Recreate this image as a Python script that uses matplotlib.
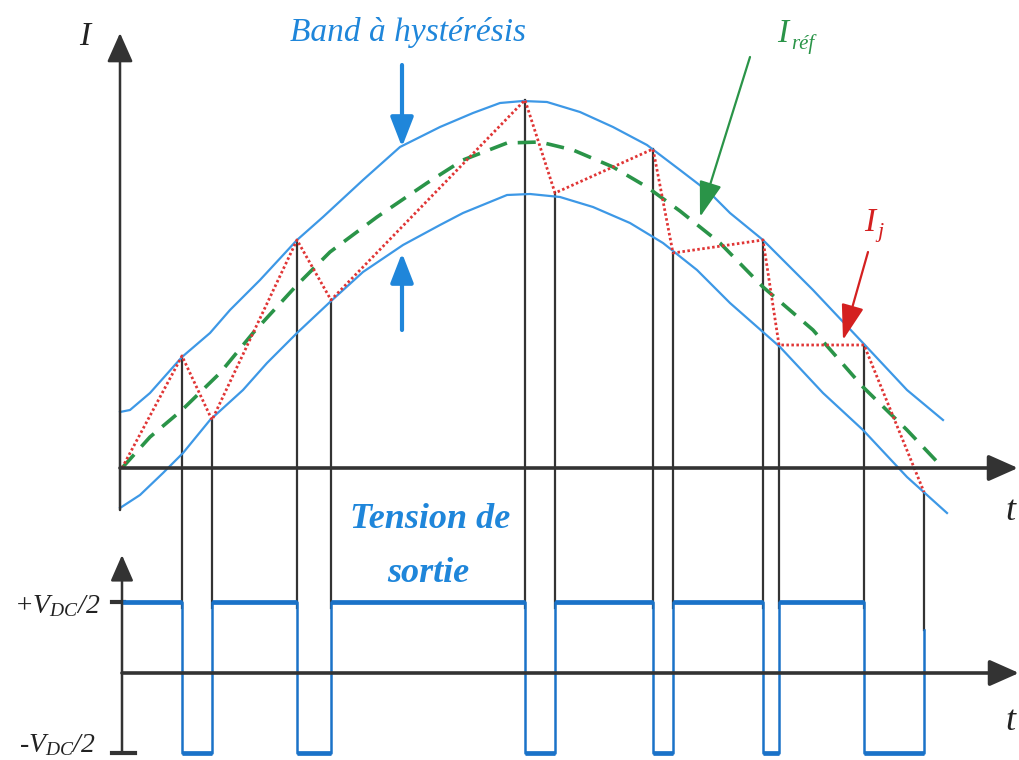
import numpy as np
import matplotlib.pyplot as plt

plt.rcParams['mathtext.fontset'] = 'custom'
plt.rcParams['mathtext.it'] = 'Liberation Serif:italic'
plt.rcParams['mathtext.rm'] = 'Liberation Serif:italic'

ref_t = [122, 150, 182, 220, 253, 297, 330, 377, 427, 463, 507, 540, 573, 613, 647, 680,
         720, 763, 813, 863, 907, 943]
ref_i = [0, 31, 58, 95, 135, 183, 216, 251, 285, 308, 325, 326, 318, 301, 281, 257,
         225, 181, 138, 81, 38, 0]

up_t = [120, 130, 150, 182, 210, 230, 260, 297, 323, 363, 400, 440, 473, 500, 523, 547,
        580, 613, 647, 680, 710, 730, 763, 813, 863, 907, 943]
up_i = [56, 58, 75, 111, 135, 158, 188, 228, 251, 288, 321, 341, 355, 365, 367, 366,
        356, 341, 323, 298, 275, 255, 228, 178, 125, 78, 48]

lo_t = [120, 140, 163, 183, 210, 243, 267, 297, 330, 363, 403, 440, 463, 507, 530, 560,
        593, 630, 663, 697, 730, 780, 823, 863, 907, 947]
lo_i = [-40, -27, -5, 15, 48, 78, 105, 135, 166, 196, 223, 243, 255, 273, 274, 271,
        261, 245, 225, 198, 165, 121, 75, 38, -9, -45]

# switching instants and current at each switch
sw_t = [182, 212, 297, 331, 525, 555, 653, 673, 763, 779, 864, 924]
sw_i = [112, 48, 228, 168, 368, 275, 319, 215, 228, 123, 123, -24]
i_start = (122, 0)

v_levels = [71, -80]   # +Vdc/2, -Vdc/2 (sketch units)
v_last = 43            # last edge stops short in the sketch

# layout (px from bottom)
Y_I = 292
Y_V = 87

BLUE_BAND = '#3d98e6'
BLUE_TXT = '#1f86da'
BLUE_V = '#1a72c8'
GREEN = '#2a9448'
RED = '#e03535'
DARK = '#333333'

fig = plt.figure(figsize=(10.2, 7.6), dpi=100)
ax = fig.add_axes([0, 0, 1, 1])
ax.set_xlim(0, 1020)
ax.set_ylim(0, 760)
ax.axis('off')

# switching verticals
for k, (t, i) in enumerate(zip(sw_t, sw_i)):
    bottom = Y_V + v_last if k == len(sw_t) - 1 else 152
    ax.plot([t, t], [Y_I + i, bottom], color=DARK, lw=1.6, zorder=2)

# band and reference
ax.plot(up_t, np.array(up_i) + Y_I, color=BLUE_BAND, lw=1.6, zorder=3)
ax.plot(lo_t, np.array(lo_i) + Y_I, color=BLUE_BAND, lw=1.6, zorder=3)
ax.plot(ref_t, np.array(ref_i) + Y_I, color=GREEN, lw=2.6, dashes=(5, 3), zorder=4)

# actual current
path_t = [i_start[0]] + sw_t
path_i = [i_start[1]] + sw_i
ax.plot(path_t, np.array(path_i) + Y_I, color=RED, lw=2, ls=(0, (0.9, 0.9)), zorder=5)

# output voltage
vt = [122]
vv = [v_levels[0]]
lvl = 0
for t in sw_t:
    vt += [t, t]
    vv += [v_levels[lvl], v_levels[1 - lvl]]
    lvl = 1 - lvl
vv[-1] = v_last
vt = np.array(vt)
vv = np.array(vv) + Y_V
ax.plot(vt, vv, color=BLUE_V, lw=1.8, zorder=3)
for k in range(0, len(vt) - 1, 2):
    if vv[k] == vv[k + 1]:
        ax.plot(vt[k:k + 2], vv[k:k + 2], color=BLUE_V, lw=3.4,
                solid_capstyle='butt', zorder=3)

# axes arrows
def arrow(x0, y0, x1, y1, color, lw, hl=1.0, hw=0.45, ms=20):
    ax.annotate('', xy=(x1, y1), xytext=(x0, y0),
                arrowprops=dict(arrowstyle='-|>,head_length=%s,head_width=%s' % (hl, hw),
                                color=color, lw=lw, mutation_scale=ms,
                                shrinkA=0, shrinkB=0), zorder=6)

arrow(120, 250, 120, 727, DARK, 1.8, 0.9, 0.4)
arrow(120, Y_I, 1018, Y_I, DARK, 2.6, 0.9, 0.4)
arrow(122, 7, 122, 205, DARK, 1.8, 0.8, 0.35)
arrow(122, Y_V, 1019, Y_V, DARK, 2.6, 0.9, 0.4)
ax.plot([112, 124], [Y_V + v_levels[0], Y_V + v_levels[0]], color=DARK, lw=3)
ax.plot([112, 135], [Y_V + v_levels[1], Y_V + v_levels[1]], color=DARK, lw=3)

# annotation arrows
arrow(402, 695, 402, 613, BLUE_TXT, 3, 0.9, 0.35)
arrow(402, 430, 402, 507, BLUE_TXT, 3, 0.9, 0.35)
arrow(750, 703, 700, 543, GREEN, 1.6, 1.1, 0.35)
arrow(868, 508, 843, 420, '#d42020', 1.6, 1.1, 0.35)

# texts
serif = 'Liberation Serif'
ax.text(85, 723, 'I', fontsize=24, style='italic', family=serif,
        ha='center', va='center', color='#222222')
ax.text(408, 728, 'Band à hystérésis', fontsize=24, style='italic', family=serif,
        ha='center', va='center', color=BLUE_TXT)
ax.text(1010, 248, 't', fontsize=26, style='italic', family=serif,
        ha='center', va='center', color='#222222')
ax.text(1010, 38, 't', fontsize=26, style='italic', family=serif,
        ha='center', va='center', color='#222222')
ax.text(430, 241, 'Tension de', fontsize=26, style='italic', weight='bold',
        family=serif, ha='center', va='center', color=BLUE_TXT)
ax.text(428, 186, 'sortie', fontsize=26, style='italic', weight='bold',
        family=serif, ha='center', va='center', color=BLUE_TXT)
ax.text(57, 154, r'+$V_{DC}$/2', fontsize=20, style='italic', family=serif,
        ha='center', va='center', color='#222222')
ax.text(57, 15, r'-$V_{DC}$/2', fontsize=20, style='italic', family=serif,
        ha='center', va='center', color='#222222')
ax.text(783, 726, 'I', fontsize=24, style='italic', family=serif,
        ha='center', va='center', color=GREEN)
ax.text(791, 716, 'réf', fontsize=15, style='italic', family=serif,
        ha='left', va='center', color=GREEN)
ax.text(870, 537, 'I', fontsize=24, style='italic', family=serif,
        ha='center', va='center', color='#d42020')
ax.text(877, 527, 'j', fontsize=16, style='italic', family=serif,
        ha='left', va='center', color='#d42020')

fig.savefig('out.png', dpi=100)
